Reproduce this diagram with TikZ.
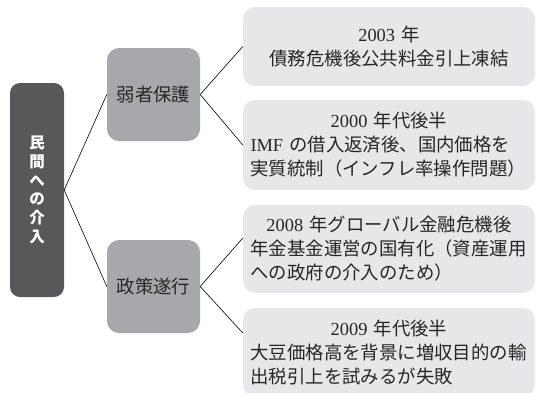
\documentclass[tikz,border=0pt]{standalone}
\usepackage{fontspec}
\setmainfont{Liberation Serif}
\newfontfamily\jp{Noto Sans CJK JP}
\definecolor{darkc}{HTML}{58585A}
\definecolor{midc}{HTML}{A7A8AB}
\definecolor{lightc}{HTML}{E6E7E8}
\definecolor{textc}{HTML}{262626}
\newcommand\ctrline[1]{\makebox[277pt]{#1}}
\begin{document}
\begin{tikzpicture}[x=1pt,y=-1pt,
  darkbox/.style={fill=darkc, rounded corners=10pt, minimum width=54pt, minimum height=214pt, inner sep=0pt, text=white, align=center, font=\fontsize{15.5}{18.8}\selectfont\jp\bfseries},
  midbox/.style={fill=midc, rounded corners=12pt, minimum width=93pt, minimum height=93pt, inner sep=0pt, text=textc, font=\fontsize{18.4}{24}\selectfont\jp},
  rbox/.style={fill=lightc, rounded corners=12pt, minimum width=292pt, inner sep=0pt, text width=277pt, align=left, text=textc, font=\fontsize{18.4}{24}\selectfont},
  conn/.style={draw=black, line width=0.6pt}]
\useasboundingbox (0,0) rectangle (537,392);
\node[darkbox] (dark) at (37,190) {民\\間\\へ\\の\\介\\入};
\node[midbox] (mid1) at (153.5,94.5) {弱者保護};
\node[midbox] (mid2) at (153.5,286.5) {政策遂行};
\node[rbox, minimum height=79pt] (r1) at (389,46.5) {\ctrline{2003 {\jp 年}}\\\ctrline{\jp 債務危機後公共料金引上凍結}};
\node[rbox, minimum height=90pt] (r2) at (389,145) {\ctrline{2000 {\jp 年代後半}}\\IMF {\jp の借入返済後、国内価格を}\\{\jp 実質統制（インフレ率操作問題）}};
\node[rbox, minimum height=88pt] (r3) at (389,249) {\ctrline{2008 {\jp 年グローバル金融危機後}}\\{\jp 年金基金運営の国有化（資産運用}\\{\jp への政府の介入のため）}};
\node[rbox, minimum height=88pt] (r4) at (389,352) {\ctrline{2009 {\jp 年代後半}}\\{\jp 大豆価格高を背景に増収目的の輸}\\{\jp 出税引上を試みるが失敗}};
\draw[conn] (dark.east) -- (mid1.west);
\draw[conn] (dark.east) -- (mid2.west);
\draw[conn] (mid1.east) -- (r1.west);
\draw[conn] (mid1.east) -- (r2.west);
\draw[conn] (mid2.east) -- ([yshift=11pt]r3.west);
\draw[conn] (mid2.east) -- ([yshift=19pt]r4.west);
\end{tikzpicture}
\end{document}
